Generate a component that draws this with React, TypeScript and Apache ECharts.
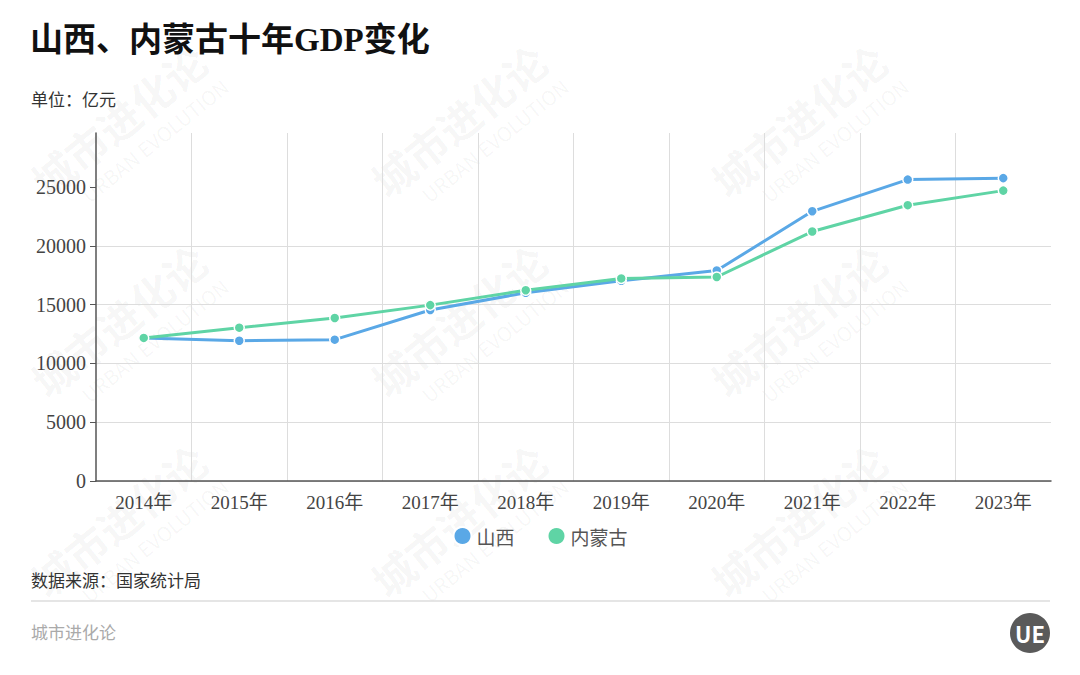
import React, { useEffect, useRef } from "react";
import * as echarts from "echarts";

const years = ["2014年", "2015年", "2016年", "2017年", "2018年", "2019年", "2020年", "2021年", "2022年", "2023年"];
const shanxi = [12160, 11930, 12020, 14540, 16010, 17030, 17900, 22940, 25640, 25760];
const neimenggu = [12170, 13040, 13860, 14960, 16220, 17230, 17350, 21220, 23460, 24700];
const yTicks = [0, 5000, 10000, 15000, 20000, 25000];

const BLUE = "#5aa8e6";
const GREEN = "#5fd4a5";
const SERIF = "'Liberation Serif', 'Noto Sans CJK SC', serif";
const SANS = "'Noto Sans CJK SC', 'Noto Sans', sans-serif";

function watermarks() {
  const items: any[] = [];
  const xs = [120, 460, 800];
  const ys = [130, 330, 530];
  for (const y of ys) {
    for (const x of xs) {
      items.push({
        type: "group",
        x,
        y,
        rotation: 0.68,
        silent: true,
        z: 0,
        children: [
          {
            type: "text",
            x: -100,
            y: -30,
            style: { text: "城市进化论", fill: "rgba(0,0,0,0.045)", fontSize: 42, fontWeight: "bold", fontFamily: SANS },
          },
          {
            type: "text",
            x: -70,
            y: 20,
            style: { text: "URBAN EVOLUTION", fill: "rgba(0,0,0,0.045)", fontSize: 20, fontFamily: SANS },
          },
        ],
      });
    }
  }
  return items;
}

export default function App() {
  const ref = useRef<HTMLDivElement>(null);
  useEffect(() => {
    if (!ref.current) return;
    const chart = echarts.init(ref.current, null, { renderer: "svg" });
    chart.setOption({
      animation: false,
      backgroundColor: "#ffffff",
      grid: { left: 96, right: 29, top: 133, bottom: 194 },
      legend: {
        top: 521,
        left: "center",
        icon: "circle",
        itemWidth: 18,
        itemHeight: 18,
        itemGap: 32,
        textStyle: { fontSize: 19, color: "#555", fontFamily: SANS },
        data: ["山西", "内蒙古"],
      },
      xAxis: {
        type: "category",
        data: years,
        boundaryGap: true,
        axisLine: { lineStyle: { color: "#555", width: 1.5 } },
        axisTick: { alignWithLabel: true, length: 5, lineStyle: { color: "#555" } },
        axisLabel: { fontSize: 19, color: "#444", fontFamily: SERIF, margin: 12 },
        splitLine: { show: true, showMinLine: false, showMaxLine: false, lineStyle: { color: "#dddddd" } },
      },
      yAxis: {
        type: "value",
        min: 0,
        max: 29600,
        interval: 5000,
        axisLine: { show: true, lineStyle: { color: "#555", width: 1.5 } },
        axisTick: { show: true, length: 6, customValues: yTicks, lineStyle: { color: "#555" } },
        axisLabel: {
          fontSize: 20,
          color: "#444",
          fontFamily: SERIF,
          margin: 10,
          customValues: yTicks,
          formatter: (v: number) => String(v),
        },
        splitLine: { show: true, showMaxLine: false, lineStyle: { color: "#dddddd" } },
      },
      series: [
        {
          name: "山西",
          type: "line",
          data: shanxi,
          symbol: "circle",
          symbolSize: 10,
          z: 3,
          lineStyle: { color: BLUE, width: 3 },
          itemStyle: { color: BLUE, borderColor: "#fff", borderWidth: 1.5 },
        },
        {
          name: "内蒙古",
          type: "line",
          data: neimenggu,
          symbol: "circle",
          symbolSize: 10,
          z: 4,
          lineStyle: { color: GREEN, width: 3 },
          itemStyle: { color: GREEN, borderColor: "#fff", borderWidth: 1.5 },
        },
      ],
      graphic: [
        ...watermarks(),
        {
          type: "text",
          left: 30,
          top: 23,
          style: { text: "山西、内蒙古十年GDP变化", fontSize: 33, fontWeight: "bold", fill: "#111", fontFamily: SERIF },
        },
        {
          type: "text",
          left: 31,
          top: 90,
          style: { text: "单位：亿元", fontSize: 17, fill: "#333", fontFamily: SANS },
        },
        {
          type: "text",
          left: 31,
          top: 571,
          style: { text: "数据来源：国家统计局", fontSize: 17, fill: "#333", fontFamily: SANS },
        },
        {
          type: "line",
          shape: { x1: 31, y1: 601, x2: 1050, y2: 601 },
          style: { stroke: "#dcdcdc", lineWidth: 1.5 },
        },
        {
          type: "text",
          left: 31,
          top: 623,
          style: { text: "城市进化论", fontSize: 17, fill: "#aaaaaa", fontFamily: SANS },
        },
        {
          type: "circle",
          shape: { cx: 1030, cy: 633, r: 20 },
          style: { fill: "#5a5a5a" },
        },
        {
          type: "text",
          x: 1030,
          y: 633,
          style: {
            text: "UE",
            fontSize: 22,
            fontWeight: "bold",
            fill: "#ffffff",
            fontFamily: SANS,
            align: "center",
            verticalAlign: "middle",
          },
        },
      ],
    });
    return () => chart.dispose();
  }, []);
  return <div ref={ref} style={{ width: 1080, height: 675, position: "absolute", left: 0, top: 0 }} />;
}
